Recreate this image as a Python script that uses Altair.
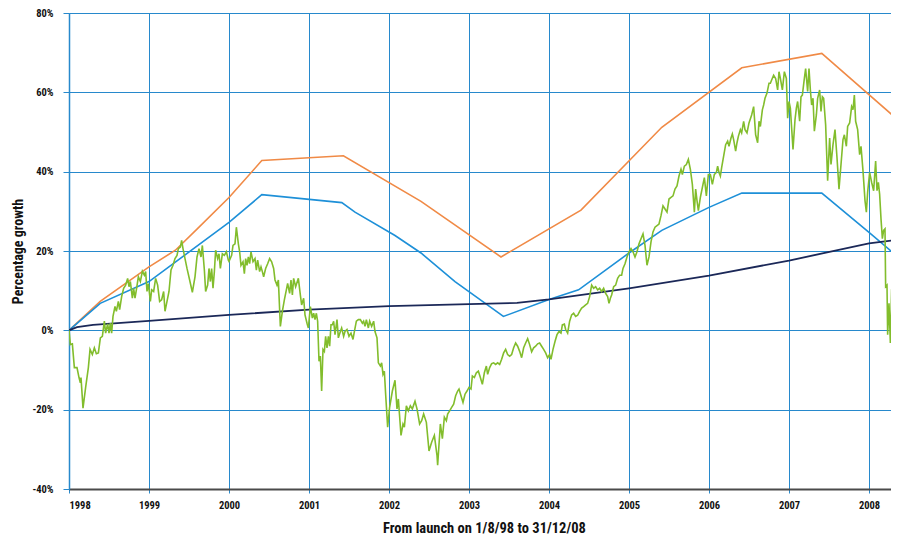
import altair as alt
import pandas as pd

# ---------------- data (percentage growth) ----------------
year_ticks = [1998, 1999, 2000, 2001, 2002, 2003, 2004, 2005, 2006, 2007, 2008]
pct_ticks = [-40, -20, 0, 20, 40, 60, 80]

orange_year = [1998.0, 1998.39, 1999.0, 1999.33, 1999.6, 2000.0, 2000.41, 2001.43, 2002.4, 2003.4, 2004.4, 2005.41, 2006.41, 2007.41, 2008.375]
orange_val = [0.0, 7.3, 16.0, 20.2, 25.5, 33.5, 42.8, 44.0, 32.5, 18.5, 30.3, 51.2, 66.2, 69.8, 52.8]

blue_year = [1998.0, 1998.39, 1999.0, 2000.0, 2000.41, 2001.41, 2001.575, 2002.075, 2002.4, 2002.825, 2003.43, 2004.0, 2004.37, 2005.0, 2005.41, 2006.0, 2006.41, 2007.41, 2008.0, 2008.375]
blue_val = [0.0, 6.8, 12.3, 27.2, 34.2, 32.2, 29.8, 23.9, 19.5, 12.3, 3.5, 7.8, 10.2, 19.5, 25.2, 31.0, 34.6, 34.6, 24.7, 18.3]

navy_year = [1998.0, 1998.1, 1998.3, 1999.0, 2000.0, 2001.0, 2002.0, 2003.0, 2003.6, 2004.0, 2005.0, 2006.0, 2007.0, 2008.0, 2008.375]
navy_val = [0.0, 0.8, 1.4, 2.4, 3.9, 5.2, 6.1, 6.6, 6.9, 7.8, 10.6, 13.8, 17.6, 21.9, 22.9]

green_1998_99 = [
    (1998.000, 0.0), (1998.017, -3.6), (1998.042, -3.4), (1998.067, -9.4), (1998.100, -9.4),
    (1998.125, -11.9), (1998.142, -13.2), (1998.150, -11.9), (1998.175, -19.6), (1998.208, -14.4),
    (1998.242, -9.4), (1998.263, -4.8), (1998.292, -6.1), (1998.317, -4.4), (1998.342, -5.9),
    (1998.367, -5.7), (1998.392, -1.9), (1998.417, -1.5), (1998.442, 2.3), (1998.458, -0.7),
    (1998.483, 1.6), (1998.500, -0.7), (1998.517, 1.8), (1998.533, -0.7), (1998.550, 3.5),
    (1998.575, 6.0), (1998.592, 4.8), (1998.617, 7.3), (1998.633, 5.2), (1998.658, 8.5),
    (1998.683, 10.6), (1998.708, 11.4), (1998.733, 13.1), (1998.750, 11.0), (1998.767, 12.3),
    (1998.792, 8.1), (1998.808, 10.6), (1998.825, 8.1), (1998.842, 10.2), (1998.867, 13.5),
    (1998.892, 12.3), (1998.917, 14.9), (1998.942, 13.9), (1998.958, 14.8), (1998.975, 9.8),
    (1998.992, 11.8), (1999.017, 7.3), (1999.033, 10.2), (1999.058, 9.8), (1999.083, 13.1),
    (1999.108, 11.4), (1999.133, 7.3), (1999.158, 7.7), (1999.183, 9.8), (1999.200, 4.8),
    (1999.225, 7.3), (1999.250, 9.8), (1999.275, 15.2), (1999.300, 16.4), (1999.325, 18.1),
    (1999.350, 18.9), (1999.367, 20.6), (1999.392, 21.0), (1999.408, 22.7), (1999.425, 20.6),
    (1999.450, 18.1), (1999.475, 15.6), (1999.508, 12.7), (1999.542, 9.6), (1999.575, 13.5),
    (1999.600, 18.5), (1999.625, 20.6), (1999.650, 18.5), (1999.667, 21.4), (1999.692, 15.2),
    (1999.708, 9.8), (1999.733, 11.4), (1999.750, 15.6), (1999.767, 12.3), (1999.783, 15.6),
    (1999.800, 10.6), (1999.817, 14.8), (1999.833, 20.2), (1999.858, 18.1), (1999.875, 19.3),
    (1999.892, 15.6), (1999.917, 19.3), (1999.942, 18.9), (1999.967, 19.8), (1999.992, 17.7),
]

green_2000_01 = [
    (2000.000, 17.4), (2000.033, 18.9), (2000.050, 21.4), (2000.075, 21.8), (2000.092, 26.0),
    (2000.117, 21.8), (2000.133, 19.8), (2000.150, 16.4), (2000.175, 17.3), (2000.192, 14.3),
    (2000.208, 18.1), (2000.225, 16.4), (2000.242, 18.5), (2000.258, 16.8), (2000.275, 19.8),
    (2000.300, 17.3), (2000.325, 18.1), (2000.342, 15.2), (2000.358, 17.7), (2000.383, 14.8),
    (2000.400, 16.0), (2000.417, 14.8), (2000.433, 13.5), (2000.458, 15.6), (2000.483, 16.8),
    (2000.508, 18.1), (2000.533, 17.3), (2000.558, 15.6), (2000.575, 12.7), (2000.600, 11.4),
    (2000.617, 12.7), (2000.642, 1.0), (2000.667, 4.8), (2000.692, 7.7), (2000.717, 10.2),
    (2000.733, 11.8), (2000.758, 9.3), (2000.775, 12.7), (2000.792, 8.9), (2000.808, 13.1),
    (2000.833, 11.0), (2000.867, 13.1), (2000.892, 8.9), (2000.908, 6.4), (2000.933, 8.1),
    (2000.950, 3.9), (2000.975, 1.8), (2000.992, 0.6), (2001.017, 6.0), (2001.042, 3.1),
    (2001.058, 4.3), (2001.075, 2.7), (2001.092, 4.3), (2001.108, 2.3), (2001.125, -7.8),
    (2001.142, -6.5), (2001.158, -15.3), (2001.175, -4.8), (2001.192, -5.3), (2001.208, -1.5),
    (2001.225, -4.4), (2001.242, -1.5), (2001.258, -4.0), (2001.275, 1.4), (2001.292, 1.4),
    (2001.308, 2.3), (2001.325, -1.1), (2001.350, 2.7), (2001.367, -1.9), (2001.392, -0.3),
    (2001.408, 0.6), (2001.433, -1.5), (2001.450, -0.3), (2001.475, 0.2), (2001.500, -1.5),
    (2001.525, -0.7), (2001.550, -2.3), (2001.567, -0.3), (2001.592, 2.3), (2001.617, 2.7),
    (2001.642, 2.7), (2001.667, 1.8), (2001.683, 2.3), (2001.700, 1.0), (2001.717, 2.7),
    (2001.742, 0.6), (2001.758, 2.3), (2001.783, 1.0), (2001.808, 2.3), (2001.825, -0.3),
    (2001.850, -1.9), (2001.867, -8.2), (2001.892, -9.0), (2001.908, -8.2), (2001.925, -11.1),
    (2001.942, -10.3), (2001.958, -16.1),
]

green_2002_03 = [
    (2001.983, -24.4), (2002.008, -19.4), (2002.042, -15.3), (2002.075, -12.6), (2002.100, -19.8),
    (2002.117, -17.3), (2002.150, -26.5), (2002.175, -23.6), (2002.192, -24.4), (2002.217, -19.0),
    (2002.242, -20.3), (2002.267, -19.0), (2002.292, -19.8), (2002.325, -17.9), (2002.350, -19.8),
    (2002.383, -23.6), (2002.408, -22.8), (2002.433, -21.1), (2002.467, -23.2), (2002.500, -30.4),
    (2002.533, -28.2), (2002.567, -26.5), (2002.600, -31.5), (2002.608, -34.0), (2002.642, -23.6),
    (2002.667, -27.3), (2002.692, -21.9), (2002.717, -22.8), (2002.733, -21.1), (2002.758, -20.3),
    (2002.783, -19.4), (2002.808, -18.6), (2002.833, -16.5), (2002.858, -15.3), (2002.875, -14.8),
    (2002.900, -16.5), (2002.925, -18.2), (2002.950, -16.1), (2002.975, -15.3), (2003.000, -14.4),
    (2003.025, -14.8), (2003.042, -11.5), (2003.067, -11.9), (2003.092, -10.7), (2003.117, -10.3),
    (2003.142, -11.9), (2003.167, -13.6), (2003.192, -10.7), (2003.217, -9.0), (2003.233, -11.1),
    (2003.258, -9.4), (2003.283, -8.4), (2003.308, -8.2), (2003.333, -8.6), (2003.358, -8.2),
    (2003.383, -8.6), (2003.408, -7.3), (2003.433, -5.7), (2003.458, -4.8), (2003.483, -6.1),
    (2003.508, -6.5), (2003.533, -6.1), (2003.558, -4.4), (2003.583, -3.2), (2003.608, -4.0),
    (2003.633, -5.3), (2003.658, -6.9), (2003.683, -4.4), (2003.708, -3.2), (2003.733, -2.1),
    (2003.758, -3.6), (2003.783, -5.4), (2003.808, -4.4), (2003.833, -4.0), (2003.858, -3.4),
    (2003.883, -3.2), (2003.908, -4.0), (2003.933, -4.8), (2003.958, -5.7), (2003.983, -6.9),
    (2004.008, -6.1),
]

green_2004_05 = [
    (2004.025, -7.3), (2004.050, -4.8), (2004.075, -2.8), (2004.100, -1.1), (2004.125, -0.3),
    (2004.150, -0.7), (2004.167, 1.4), (2004.192, 1.6), (2004.208, 0.2), (2004.233, -0.7),
    (2004.258, 2.3), (2004.283, 3.9), (2004.308, 4.3), (2004.333, 3.5), (2004.358, 3.8),
    (2004.383, 4.8), (2004.408, 5.6), (2004.433, 6.0), (2004.458, 6.4), (2004.483, 6.8),
    (2004.508, 8.5), (2004.533, 11.4), (2004.558, 10.6), (2004.583, 11.0), (2004.608, 10.2),
    (2004.633, 10.6), (2004.658, 9.8), (2004.683, 10.6), (2004.708, 9.3), (2004.733, 8.5),
    (2004.750, 6.8), (2004.767, 8.1), (2004.783, 8.9), (2004.808, 11.0), (2004.833, 11.4),
    (2004.858, 13.1), (2004.883, 13.9), (2004.908, 13.9), (2004.925, 15.6), (2004.950, 16.8),
    (2004.975, 18.5), (2005.000, 19.8), (2005.025, 20.6), (2005.050, 19.8), (2005.075, 18.5),
    (2005.100, 19.8), (2005.125, 21.8), (2005.150, 23.1), (2005.175, 24.3), (2005.200, 21.4),
    (2005.225, 16.4), (2005.250, 18.5), (2005.275, 22.3), (2005.300, 24.8), (2005.325, 26.0),
    (2005.350, 26.4), (2005.375, 26.8), (2005.400, 28.9), (2005.425, 31.4), (2005.450, 30.6),
    (2005.475, 29.8), (2005.500, 33.1), (2005.525, 33.5), (2005.550, 33.9), (2005.575, 35.6),
    (2005.600, 36.4), (2005.625, 38.9), (2005.650, 40.6), (2005.667, 39.3), (2005.692, 41.4),
    (2005.717, 41.8), (2005.742, 43.1), (2005.767, 40.6), (2005.792, 36.8), (2005.817, 29.8),
    (2005.833, 35.6), (2005.850, 32.7), (2005.867, 30.2), (2005.892, 33.5), (2005.917, 36.0),
    (2005.942, 38.5), (2005.967, 33.9), (2005.992, 39.3),
]

green_2006_08 = [
    (2006.017, 39.3), (2006.042, 36.8), (2006.067, 39.3), (2006.092, 39.8), (2006.108, 41.4),
    (2006.125, 39.8), (2006.142, 38.9), (2006.158, 41.0), (2006.183, 43.9), (2006.208, 46.8),
    (2006.233, 47.7), (2006.250, 46.4), (2006.275, 48.5), (2006.292, 49.5), (2006.308, 48.1),
    (2006.333, 45.2), (2006.350, 47.3), (2006.367, 48.9), (2006.392, 50.6), (2006.408, 49.8),
    (2006.433, 52.7), (2006.450, 50.6), (2006.475, 49.8), (2006.500, 52.3), (2006.533, 54.3),
    (2006.558, 56.4), (2006.583, 49.3), (2006.608, 47.3), (2006.625, 52.7), (2006.642, 51.4),
    (2006.667, 55.6), (2006.683, 56.8), (2006.700, 58.5), (2006.725, 59.8), (2006.750, 62.3),
    (2006.767, 62.3), (2006.783, 63.1), (2006.808, 64.3), (2006.833, 63.5), (2006.858, 60.6),
    (2006.875, 65.2), (2006.892, 63.5), (2006.917, 60.6), (2006.942, 65.2), (2006.967, 63.5),
    (2006.983, 53.5), (2007.000, 57.7), (2007.017, 56.0), (2007.033, 51.0), (2007.050, 45.6),
    (2007.075, 53.1), (2007.092, 56.0), (2007.108, 57.7), (2007.133, 52.7), (2007.150, 58.9),
    (2007.167, 59.3), (2007.192, 63.5), (2007.208, 66.0), (2007.233, 60.2), (2007.250, 66.0),
    (2007.267, 60.6), (2007.283, 56.8), (2007.300, 58.5), (2007.317, 50.2), (2007.342, 54.3),
    (2007.358, 58.5), (2007.383, 60.6), (2007.400, 55.2), (2007.417, 58.9), (2007.433, 58.5),
    (2007.458, 51.8), (2007.483, 37.7), (2007.508, 48.5), (2007.525, 41.8), (2007.550, 46.8),
    (2007.575, 50.6), (2007.600, 43.5), (2007.625, 35.6), (2007.650, 41.8), (2007.675, 48.1),
    (2007.692, 49.3), (2007.717, 46.4), (2007.733, 51.4), (2007.758, 52.3), (2007.783, 56.4),
    (2007.800, 55.6), (2007.817, 59.3), (2007.833, 52.7), (2007.858, 50.6), (2007.883, 44.3),
    (2007.900, 46.4), (2007.925, 40.2), (2007.950, 32.7), (2007.967, 29.8), (2007.983, 34.8),
    (2008.008, 39.8), (2008.033, 37.3), (2008.058, 35.2), (2008.083, 42.7), (2008.100, 35.2),
    (2008.117, 37.3), (2008.133, 34.3), (2008.150, 28.1), (2008.167, 23.1), (2008.183, 25.2),
    (2008.200, 25.6), (2008.208, 11.0), (2008.225, 11.4), (2008.233, -1.1), (2008.250, 6.8),
    (2008.267, -3.2), (2008.283, 10.2), (2008.308, 14.8), (2008.325, -4.8), (2008.342, 5.6),
    (2008.358, 7.3), (2008.367, 2.0), (2008.375, 9.5),
]

# ---------------- table ----------------
rows = []
for yr, v in zip(orange_year, orange_val):
    rows.append({"series": "orange", "year": yr, "value": v})
for yr, v in zip(blue_year, blue_val):
    rows.append({"series": "blue", "year": yr, "value": v})
for yr, v in zip(navy_year, navy_val):
    rows.append({"series": "navy", "year": yr, "value": v})
for seg in [green_1998_99, green_2000_01, green_2002_03, green_2004_05, green_2006_08]:
    for yr, v in seg:
        rows.append({"series": "green", "year": yr, "value": v})
df = pd.DataFrame(rows)

GRID = "#2789cc"
FONT = "Roboto Condensed, Liberation Sans Narrow, DejaVu Sans Condensed, Liberation Sans, sans-serif"

PLOT_W = 822   # 80 px per year, page is cut at the right edge
PLOT_H = 476

x_enc = alt.X(
    "year:Q",
    scale=alt.Scale(domain=[1998, 2008.275], nice=False, zero=False),
    axis=alt.Axis(
        values=year_ticks, format="d", title="From launch on 1/8/98 to 31/12/08",
        labelFont=FONT, labelFontWeight="bold", labelFontSize=10.5, labelColor="#111111",
        labelPadding=7, tickSize=4, tickColor=GRID,
        domainColor="#4a4a4a", domainWidth=2,
        grid=True, gridColor=GRID, gridWidth=1,
        titleFont=FONT, titleFontWeight="bold", titleFontSize=14.5, titleColor="#111111",
        titleX=415, titleY=39, titleBaseline="middle", titleAlign="center",
    ),
)
y_enc = alt.Y(
    "value:Q",
    scale=alt.Scale(domain=[-40, 80], nice=False),
    axis=alt.Axis(
        values=pct_ticks, labelExpr="datum.value + '%'", title="Percentage  growth",
        labelFont=FONT, labelFontWeight="bold", labelFontSize=10.5, labelColor="#111111",
        labelPadding=10, tickSize=6, tickColor=GRID,
        domainColor=GRID, domainWidth=1.5,
        grid=True, gridColor=GRID, gridWidth=1,
        titleFont=FONT, titleFontWeight="bold", titleFontSize=14, titleColor="#111111",
        titleX=-51, titleY=PLOT_H / 2, titleAngle=-90, titleBaseline="middle", titleAlign="center",
    ),
)

base = alt.Chart(df).encode(x=x_enc, y=y_enc)

def line(name, color, width):
    return base.transform_filter(alt.datum.series == name).mark_line(
        color=color, strokeWidth=width, clip=True
    )

chart = alt.layer(
    line("orange", "#f08a46", 1.6),
    line("blue", "#1e90d8", 1.6),
    line("navy", "#1b2858", 1.8),
    line("green", "#82bd2c", 1.6),
).properties(
    width=PLOT_W, height=PLOT_H,
    autosize="none",
    padding={"left": 61, "top": 5, "right": 0, "bottom": 48},
).configure_view(strokeWidth=0)

chart.save("out.html", embed_options={"renderer": "svg", "actions": False})
